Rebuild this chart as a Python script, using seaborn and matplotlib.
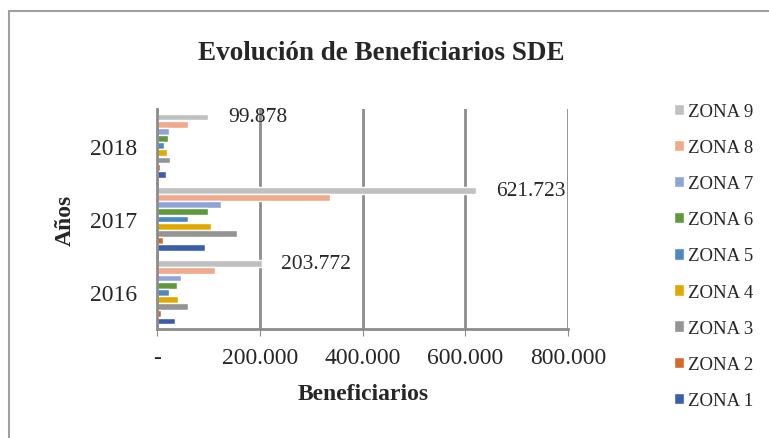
import pandas as pd
import seaborn as sns
from matplotlib import pyplot as plt
from matplotlib.patches import Rectangle
from matplotlib.ticker import FuncFormatter

# values (Zona 9 values are labelled in the original)
years = ["2018", "2017", "2016"]
zonas = ["ZONA 9", "ZONA 8", "ZONA 7", "ZONA 6", "ZONA 5",
         "ZONA 4", "ZONA 3", "ZONA 2", "ZONA 1"]
vals_2018 = [99878, 60000, 23000, 21000, 13000, 19000, 26000, 6000, 17000]
vals_2017 = [621723, 336000, 125000, 100000, 61000, 106000, 156000, 12000, 93000]
vals_2016 = [203772, 112000, 47000, 38000, 23000, 40000, 60000, 8000, 35000]
colores = ["#C0C0C0", "#F0A98B", "#8FA4D6", "#5F993C", "#4D88BE",
           "#E0A800", "#949494", "#D4692A", "#3A5EAA"]

rows = []
for y, vals in zip(years, [vals_2018, vals_2017, vals_2016]):
    for z, v in zip(zonas, vals):
        rows.append({"Año": y, "Zona": z, "Beneficiarios": v})
df = pd.DataFrame(rows)

sns.set_style("white")
plt.rcParams["font.family"] = ["Liberation Serif", "DejaVu Serif"]

fig = plt.figure(figsize=(7.69, 4.39), dpi=100)
ax = fig.add_axes([157 / 769, 1 - 330 / 439, 411 / 769, 220 / 439])

sns.barplot(data=df, y="Año", x="Beneficiarios", hue="Zona", order=years,
            hue_order=zonas, palette=colores, saturation=1, orient="h",
            width=0.88, gap=0.05, ax=ax, legend=True)

def miles(v, pos):
    if v == 0:
        return "-"
    return f"{v:,.0f}".replace(",", ".")

# labels only on ZONA 9
ax.bar_label(ax.containers[0], labels=[miles(v, 0) for v in vals_2018[:1] + vals_2017[:1] + vals_2016[:1]],
             padding=14, fontsize=15.5)

ax.set_xlim(0, 800000)
ax.set_ylim(2.5, -0.5)
ax.set_xticks([0, 200000, 400000, 600000, 800000])
ax.xaxis.set_major_formatter(FuncFormatter(miles))
ax.tick_params(axis="x", labelsize=17, length=5, color="#8C8C8C", pad=8, bottom=True)
ax.tick_params(axis="y", labelsize=17, length=0, pad=14)
ax.grid(axis="x", color="#8C8C8C", lw=2)
ax.grid(axis="y", visible=False)
sns.despine(ax=ax, top=True, right=True)
for s in ["left", "bottom"]:
    ax.spines[s].set_color("#8C8C8C")
    ax.spines[s].set_linewidth(2)
ax.set_xlabel("")
ax.set_ylabel("")

fig.text(0.496, 0.879, "Evolución de Beneficiarios SDE", ha="center", va="center",
         fontsize=19.5, fontweight="bold")
fig.text(363 / 769, 1 - 395 / 439, "Beneficiarios", ha="center", va="center",
         fontsize=17, fontweight="bold")
fig.text(65 / 769, 1 - 220 / 439, "Años", ha="center", va="center",
         fontsize=17, fontweight="bold", rotation=90)

ax.legend(loc="center left", bbox_to_anchor=(674 / 769, 1 - 257 / 439),
          bbox_transform=fig.transFigure, frameon=False, fontsize=13.5,
          handlelength=0.55, handleheight=0.55, handletextpad=0.2,
          labelspacing=1.02, borderpad=0, borderaxespad=0)

# outer frame of the chart area
fig.patches.append(Rectangle((9 / 769, -0.1), 1.2, 1.1 - 12 / 439,
                             transform=fig.transFigure, fill=False,
                             edgecolor="#A0A0A0", lw=1.5))

fig.savefig("out.png", dpi=100)
